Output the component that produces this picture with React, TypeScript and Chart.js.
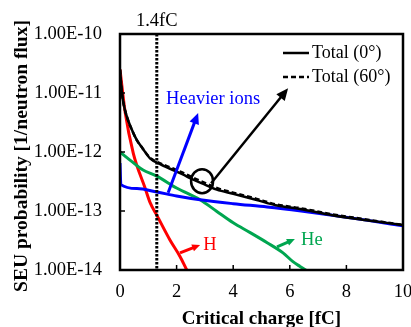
import { useEffect, useRef } from 'react';
import { Chart, registerables } from 'chart.js';

Chart.register(...registerables);

const FONT = "'Liberation Serif', 'Times New Roman', serif";

// ---- data ----
const totalCharge = [0, 0.06, 0.12, 0.24, 0.4, 0.59, 0.8, 1.06, 1.4, 1.77, 2.2, 2.59, 3.0, 3.42, 4.0, 4.8, 5.5, 6.36, 7.5, 8.7, 10];
const total0 = [2.5e-11, 1.1e-11, 6.8e-12, 4.0e-12, 2.5e-12, 1.6e-12, 1.15e-12, 7.8e-13, 6.3e-13, 5.2e-13, 4.2e-13, 3.4e-13, 2.8e-13, 2.3e-13, 1.95e-13, 1.55e-13, 1.25e-13, 1.08e-13, 8.5e-14, 7.0e-14, 5.8e-14];
const total60 = [2.5e-11, 1.1e-11, 6.8e-12, 4.0e-12, 2.5e-12, 1.6e-12, 1.15e-12, 8.0e-13, 6.5e-13, 5.5e-13, 4.5e-13, 3.65e-13, 3.0e-13, 2.45e-13, 2.05e-13, 1.62e-13, 1.3e-13, 1.12e-13, 8.8e-14, 7.2e-14, 5.8e-14];

const heavyCharge = [0, 0.03, 0.6, 1.3, 2.0, 2.83, 4.0, 5.2, 6.4, 7.5, 8.7, 10];
const heavyProb = [6.5e-13, 2.8e-13, 2.4e-13, 2.1e-13, 1.8e-13, 1.55e-13, 1.33e-13, 1.17e-13, 1.0e-13, 8.5e-14, 7.0e-14, 5.6e-14];

const heCharge = [0, 0.4, 0.8, 1.3, 2.0, 2.83, 3.4, 4.0, 4.6, 5.2, 5.76, 6.1, 6.36, 6.71, 7.0];
const heProb = [1.0e-12, 7.0e-13, 5.0e-13, 3.9e-13, 2.45e-13, 1.55e-13, 1.0e-13, 6.3e-14, 4.3e-14, 2.9e-14, 1.95e-14, 1.4e-14, 1.15e-14, 9e-15, 7e-15];

const hCharge = [0, 0.18, 0.47, 0.88, 1.06, 1.3, 1.77, 2.12, 2.36, 2.6];
const hProb = [2.5e-11, 4.8e-12, 9.5e-13, 2.5e-13, 1.4e-13, 8.5e-14, 3.2e-14, 1.7e-14, 1.0e-14, 6e-15];

const xTicks = [0, 2, 4, 6, 8, 10];
const yTicks = [1e-14, 1e-13, 1e-12, 1e-11, 1e-10];
const yTickLabels = ['1.00E-14', '1.00E-13', '1.00E-12', '1.00E-11', '1.00E-10'];

const yTitle = 'SEU probability [1/neutron flux]';
const xTitle = 'Critical charge [fC]';

const markerCharge = 1.3;
const markerLabel = '1.4fC';

// annotations (data coordinates)
const labels = [
  { text: 'Heavier ions', x: 3.29, y: 7.9e-12, color: '#0000FF' },
  { text: 'H', x: 3.18, y: 2.65e-14, color: '#FF0000' },
  { text: 'He', x: 6.78, y: 3.2e-14, color: '#00A650' },
];
const arrows = [
  { x1: 1.70, y1: 2.04e-13, x2: 2.76, y2: 4.6e-12, color: '#0000FF', w: 3, head: 11 },
  { x1: 3.22, y1: 2.95e-13, x2: 5.94, y2: 1.2e-11, color: '#000000', w: 2.5, head: 12 },
  { x1: 2.12, y1: 1.95e-14, x2: 2.83, y2: 2.65e-14, color: '#FF0000', w: 3, head: 8 },
  { x1: 5.55, y1: 2.46e-14, x2: 6.18, y2: 3.35e-14, color: '#00A650', w: 3, head: 8 },
];
const loop = { x: 2.9, y: 3.2e-13 };

const pts = (xs: number[], ys: number[]) => xs.map((x, i) => ({ x, y: ys[i] }));

function drawArrow(ctx: CanvasRenderingContext2D, x1: number, y1: number, x2: number, y2: number, color: string, w: number, head: number) {
  const ang = Math.atan2(y2 - y1, x2 - x1);
  const bx = x2 - head * 0.8 * Math.cos(ang);
  const by = y2 - head * 0.8 * Math.sin(ang);
  ctx.strokeStyle = color;
  ctx.fillStyle = color;
  ctx.lineWidth = w;
  ctx.setLineDash([]);
  ctx.beginPath();
  ctx.moveTo(x1, y1);
  ctx.lineTo(bx, by);
  ctx.stroke();
  const hw = head * 0.45;
  ctx.beginPath();
  ctx.moveTo(x2, y2);
  ctx.lineTo(x2 - head * Math.cos(ang) + hw * Math.sin(ang), y2 - head * Math.sin(ang) - hw * Math.cos(ang));
  ctx.lineTo(x2 - head * Math.cos(ang) - hw * Math.sin(ang), y2 - head * Math.sin(ang) + hw * Math.cos(ang));
  ctx.closePath();
  ctx.fill();
}

const annotPlugin = {
  id: 'annot',
  afterDatasetsDraw(chart: any) {
    const { ctx, chartArea: a, scales } = chart;
    const xs = scales.x;
    const ys = scales.y;
    const px = (v: number) => xs.getPixelForValue(v);
    const py = (v: number) => ys.getPixelForValue(v);
    ctx.save();

    // dotted marker
    ctx.strokeStyle = '#000';
    ctx.lineWidth = 3;
    ctx.setLineDash([2.5, 1.5]);
    ctx.beginPath();
    ctx.moveTo(px(markerCharge), a.top);
    ctx.lineTo(px(markerCharge), a.bottom);
    ctx.stroke();
    ctx.setLineDash([]);

    // frame
    ctx.lineWidth = 2.5;
    ctx.strokeRect(a.left, a.top, a.right - a.left, a.bottom - a.top);

    // inward ticks
    ctx.lineWidth = 1.5;
    ctx.beginPath();
    yTicks.forEach((v) => {
      ctx.moveTo(a.left, py(v));
      ctx.lineTo(a.left + 5, py(v));
    });
    xTicks.forEach((v) => {
      ctx.moveTo(px(v), a.bottom);
      ctx.lineTo(px(v), a.bottom - 5);
    });
    ctx.stroke();

    // y axis title
    ctx.save();
    ctx.translate(22, (a.top + a.bottom) / 2 + 4);
    ctx.rotate(-Math.PI / 2);
    ctx.font = `bold 19.5px ${FONT}`;
    ctx.fillStyle = '#000';
    ctx.textAlign = 'center';
    ctx.textBaseline = 'middle';
    ctx.fillText(yTitle, 0, 0);
    ctx.restore();

    // marker label
    ctx.font = `18.5px ${FONT}`;
    ctx.fillStyle = '#000';
    ctx.textAlign = 'center';
    ctx.textBaseline = 'middle';
    ctx.fillText(markerLabel, px(markerCharge), a.top - 13);

    // text labels
    labels.forEach((l) => {
      ctx.fillStyle = l.color;
      ctx.fillText(l.text, px(l.x), py(l.y));
    });

    // arrows
    arrows.forEach((r) => drawArrow(ctx, px(r.x1), py(r.y1), px(r.x2), py(r.y2), r.color, r.w, r.head));

    // loop
    ctx.strokeStyle = '#000';
    ctx.lineWidth = 2.5;
    ctx.beginPath();
    ctx.ellipse(px(loop.x), py(loop.y), 11, 12, 0, 0, Math.PI * 2);
    ctx.stroke();

    // legend
    const ds = chart.data.datasets;
    const lx = a.right - 120;
    [0, 1].forEach((i) => {
      const yy = a.top + 19 + i * 24;
      ctx.strokeStyle = '#000';
      ctx.lineWidth = 2.5;
      ctx.setLineDash(i === 0 ? [] : [5, 3]);
      ctx.beginPath();
      ctx.moveTo(lx, yy);
      ctx.lineTo(lx + 26, yy);
      ctx.stroke();
      ctx.setLineDash([]);
      ctx.fillStyle = '#000';
      ctx.textAlign = 'left';
      ctx.font = `18px ${FONT}`;
      ctx.fillText(ds[i].label, lx + 29, yy);
    });

    ctx.restore();
  },
};

export default function App() {
  const ref = useRef<HTMLCanvasElement | null>(null);
  useEffect(() => {
    document.body.style.margin = '0';
    const canvas = ref.current;
    if (!canvas) return;
    const line = { pointRadius: 0, cubicInterpolationMode: 'monotone' as const, fill: false };
    const chart = new Chart(canvas, {
      type: 'line',
      data: {
        datasets: [
          { ...line, label: 'Total (0°)', data: pts(totalCharge, total0), borderColor: '#000', borderWidth: 2.5 },
          { ...line, label: 'Total (60°)', data: pts(totalCharge, total60), borderColor: '#000', borderWidth: 2.5, borderDash: [5, 3] },
          { ...line, label: 'Heavier ions', data: pts(heavyCharge, heavyProb), borderColor: '#0000FF', borderWidth: 3 },
          { ...line, label: 'He', data: pts(heCharge, heProb), borderColor: '#00A650', borderWidth: 3 },
          { ...line, label: 'H', data: pts(hCharge, hProb), borderColor: '#FF0000', borderWidth: 3 },
        ],
      },
      options: {
        responsive: false,
        animation: false,
        parsing: false as any,
        layout: { padding: { top: 34, right: 8, left: 0, bottom: 0 } },
        plugins: { legend: { display: false }, tooltip: { enabled: false } },
        scales: {
          x: {
            type: 'linear',
            min: 0,
            max: 10,
            afterBuildTicks: (s: any) => {
              s.ticks = xTicks.map((v) => ({ value: v }));
            },
            afterFit: (s: any) => {
              s.height = 57;
              s.paddingLeft = 0;
              s.paddingRight = 0;
            },
            ticks: { font: { family: FONT, size: 18.5 }, color: '#000', padding: 11, maxRotation: 0 },
            grid: { display: false, drawTicks: false },
            border: { display: false },
            title: {
              display: true,
              text: xTitle,
              color: '#000',
              font: { family: FONT, size: 19, weight: 'bold', lineHeight: 1 },
              padding: { top: 0, bottom: -2 },
            },
          },
          y: {
            type: 'logarithmic',
            min: 1e-14,
            max: 1e-10,
            afterBuildTicks: (s: any) => {
              s.ticks = yTicks.map((v) => ({ value: v }));
            },
            afterFit: (s: any) => {
              s.width = 120;
              s.paddingTop = 0;
              s.paddingBottom = 0;
            },
            ticks: {
              callback: (v: any) => {
                const i = yTicks.findIndex((t) => Math.abs(t - Number(v)) / t < 1e-6);
                return i >= 0 ? yTickLabels[i] : '';
              },
              font: { family: FONT, size: 18.5 },
              color: '#000',
              padding: 18,
            },
            grid: { display: false, drawTicks: false },
            border: { display: false },
            title: { display: false },
          },
        },
      },
      plugins: [annotPlugin],
    });
    return () => chart.destroy();
  }, []);
  return (
    <div style={{ position: 'absolute', left: 0, top: 0, width: 411, height: 327 }}>
      <canvas ref={ref} width={411} height={327} style={{ display: 'block', width: 411, height: 327 }} />
    </div>
  );
}
